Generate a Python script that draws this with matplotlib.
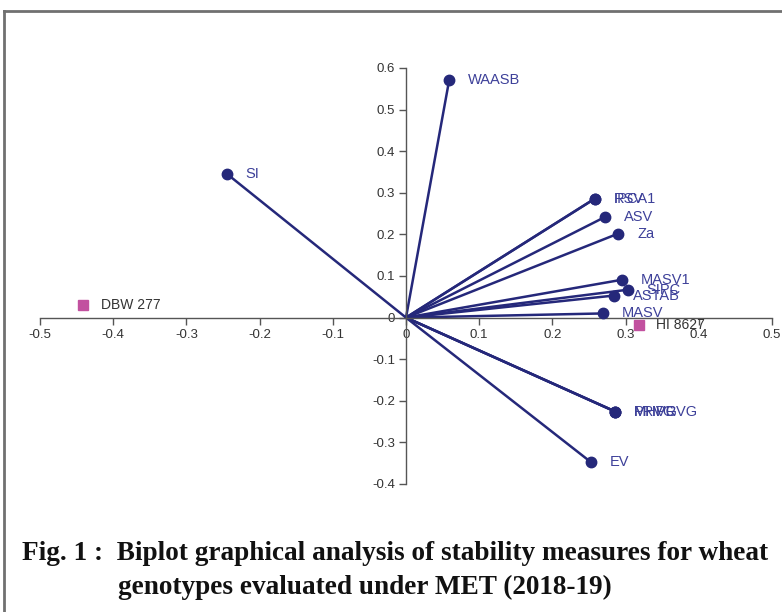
import matplotlib
matplotlib.use('Agg')
import matplotlib.pyplot as plt
from matplotlib.lines import Line2D

plt.rcParams['font.family'] = ['Liberation Sans', 'DejaVu Sans']

# stability measures (vectors from origin)
measures = ['WAASB', 'SI', 'IPCA1', 'RSV', 'ASV', 'Za', 'MASV1', 'SIPC', 'ASTAB',
            'MASV', 'MHVG', 'PRVG', 'MHPRVG', 'EV']
mx = [0.059, -0.245, 0.258, 0.258, 0.272, 0.290, 0.295, 0.303, 0.284,
      0.269, 0.286, 0.286, 0.286, 0.253]
my = [0.571, 0.346, 0.286, 0.286, 0.242, 0.202, 0.091, 0.067, 0.053,
      0.010, -0.226, -0.226, -0.226, -0.348]

# genotypes
genotypes = ['DBW 277', 'HI 8627']
gx = [-0.441, 0.318]
gy = [0.031, -0.017]

xticks = [-0.5, -0.4, -0.3, -0.2, -0.1, 0, 0.1, 0.2, 0.3, 0.4, 0.5]
yticks = [-0.4, -0.3, -0.2, -0.1, 0, 0.1, 0.2, 0.3, 0.4, 0.5, 0.6]

navy = '#25287a'
label_col = '#3d4099'

fig = plt.figure(figsize=(7.82, 6.12), dpi=100)

# outer frame (left and top edges)
fig.add_artist(Line2D([4 / 782, 4 / 782], [0, 1 - 11 / 612], transform=fig.transFigure,
                      color='#707070', lw=2))
fig.add_artist(Line2D([4 / 782, 1], [1 - 11 / 612, 1 - 11 / 612], transform=fig.transFigure,
                      color='#707070', lw=2))

ax = fig.add_axes([40 / 782, 1 - 484 / 612, 732 / 782, 416 / 612])
ax.set_xlim(-0.5, 0.5)
ax.set_ylim(-0.4, 0.6)

for s in ['top', 'right']:
    ax.spines[s].set_visible(False)
ax.spines['left'].set_position(('data', 0))
ax.spines['bottom'].set_position(('data', 0))
for s in ['left', 'bottom']:
    ax.spines[s].set_color('#555555')
    ax.spines[s].set_linewidth(1)

ax.set_xticks(xticks)
ax.set_xticklabels(['%g' % t for t in xticks])
ax.set_yticks(yticks)
ax.set_yticklabels(['%g' % t for t in yticks])
ax.tick_params(axis='both', direction='out', length=5, width=1, color='#555555',
               labelsize=9.5, labelcolor='#333333', pad=3)

for name, x, y in zip(measures, mx, my):
    ax.plot([0, x], [0, y], color=navy, lw=1.8, solid_capstyle='round', clip_on=False)
    ax.plot(x, y, 'o', color=navy, ms=7.5, clip_on=False, zorder=4)
    ax.annotate(name, (x, y), xytext=(13.5, 0), textcoords='offset points',
                ha='left', va='center', fontsize=10.5, color=label_col)

for name, x, y in zip(genotypes, gx, gy):
    ax.plot(x, y, 's', color='#c2519f', ms=7.5, clip_on=False, zorder=4)
    ax.annotate(name, (x, y), xytext=(12.5, 0), textcoords='offset points',
                ha='left', va='center', fontsize=10, color='#333333')

# caption, scaled to span the width of the original
cap_font = dict(family=['Liberation Serif', 'DejaVu Serif'], fontweight='bold', color='#111111')
line1 = 'Fig. 1 :  Biplot graphical analysis of stability measures for wheat'
line2 = 'genotypes evaluated under MET (2018-19)'
t1 = fig.text(22 / 782, 1 - 553 / 612, line1, ha='left', va='center', fontsize=16, **cap_font)
fig.canvas.draw()
w = t1.get_window_extent().width
size = 16 * 750 / w
t1.set_fontsize(size)
fig.text(118 / 782, 1 - 587 / 612, line2, ha='left', va='center', fontsize=size, **cap_font)

fig.savefig('out.png', dpi=100)
